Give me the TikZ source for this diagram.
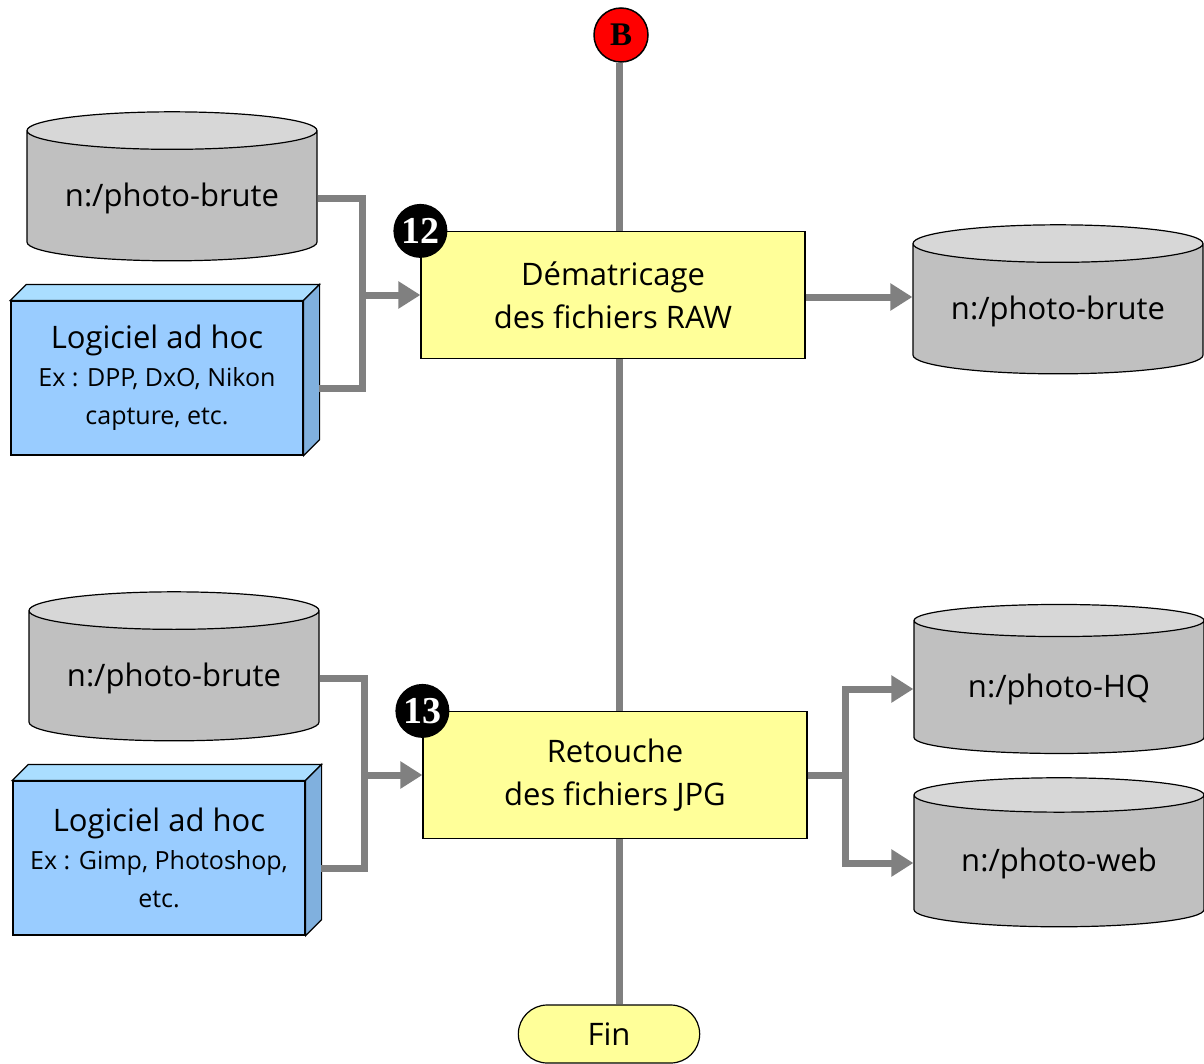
\documentclass[tikz,border=0pt]{standalone}
\usepackage{fontspec}
\setmainfont{Open Sans}
\newfontfamily\badgefont{Liberation Serif}
\usetikzlibrary{shapes,arrows.meta,positioning,calc}

\definecolor{procfill}{RGB}{255,255,153}
\definecolor{softfront}{RGB}{153,204,255}
\definecolor{softtop}{RGB}{170,222,255}
\definecolor{softside}{RGB}{128,176,222}
\definecolor{diskbody}{RGB}{192,192,192}
\definecolor{disktop}{RGB}{215,215,215}
\definecolor{wire}{RGB}{128,128,128}

\tikzset{
  process/.style={draw=black, line width=1.2pt, fill=procfill, minimum width=384pt,
    minimum height=127pt, align=center, font=\fontsize{31}{43}\selectfont},
  disk/.style={cylinder, shape border rotate=90, aspect=0.17, draw=black, line width=1.2pt,
    cylinder uses custom fill, cylinder body fill=diskbody, cylinder end fill=disktop,
    minimum width=290pt, minimum height=149pt, font=\fontsize{31}{36}\selectfont},
  soft/.style={draw=black, line width=1.2pt, fill=softfront, minimum width=292pt,
    minimum height=154pt, align=center, font=\fontsize{25}{38}\selectfont},
  badge/.style={circle, fill=black, text=white, inner sep=0pt, minimum size=54pt,
    font=\badgefont\bfseries\fontsize{38}{38}\selectfont},
  trunk/.style={draw=wire, line width=7pt},
  link/.style={draw=wire, line width=7pt},
  flow/.style={link, -{Triangle[length=22pt,width=26pt]}}
}

\begin{document}
\begin{tikzpicture}[x=1pt,y=-1pt]
  \useasboundingbox (0,0) rectangle (1204,1063);

  % start / end
  \node[circle, draw=black, line width=1.5pt, fill=red, minimum size=54pt, inner sep=0pt,
    font=\badgefont\bfseries\fontsize{33}{33}\selectfont] (B) at (621,35) {B};
  \node[rounded rectangle, draw=black, line width=1.2pt, fill=procfill, minimum width=188pt,
    minimum height=58pt, font=\fontsize{31}{36}\selectfont] (fin) at (609,1034) {Fin};

  % step 12
  \node[process] (box12) at (613,295) {Dématricage\\des fichiers RAW};
  \node[disk] (disk12in) at (172,198) {n:/photo-brute};
  \node[soft] (soft12) at (157,378)
    {{\fontsize{31}{38}\selectfont Logiciel ad hoc}\\Ex : DPP, DxO, Nikon\\capture, etc.};
  \node[disk] (disk12out) at (1058,311) {n:/photo-brute};

  % step 13
  \node[process] (box13) at (615,775) {Retouche\\des fichiers JPG};
  \node[disk] (disk13in) at (174,678) {n:/photo-brute};
  \node[soft] (soft13) at (159,858)
    {{\fontsize{31}{38}\selectfont Logiciel ad hoc}\\Ex : Gimp, Photoshop,\\etc.};
  \node[disk] (diskHQ) at (1059,689) {n:/photo-HQ};
  \node[disk] (diskweb) at (1059,863) {n:/photo-web};

  % 3d faces of the software boxes
  \foreach \s in {soft12,soft13} {
    \filldraw[fill=softtop, line width=1.2pt] (\s.north west) -- ++(16,-16)
      -- ($(\s.north east)+(16,-16)$) -- (\s.north east) -- cycle;
    \filldraw[fill=softside, line width=1.2pt] (\s.north east) -- ++(16,-16)
      -- ($(\s.south east)+(16,-16)$) -- (\s.south east) -- cycle;
  }

  % main line
  \draw[trunk] (B.south -| 619,0) -- (box12.north -| 619,0);
  \draw[trunk] (box12.south -| 619,0) -- (box13.north -| 619,0);
  \draw[trunk] (box13.south -| 619,0) -- (fin.north -| 619,0);

  \coordinate (join12) at (362,295);
  \coordinate (soft12out) at (319,388);
  \draw[link] (disk12in.east) -| (join12);
  \draw[link] (soft12out) -| (join12);
  \draw[flow] (join12) -- (box12.west);
  \draw[flow] (box12.east |- 0,297) -- (disk12out.west |- 0,297);

  \coordinate (join13) at (364,775);
  \coordinate (soft13out) at (321,868);
  \coordinate (split13) at (845,775);
  \draw[link] (disk13in.east) -| (join13);
  \draw[link] (soft13out) -| (join13);
  \draw[flow] (join13) -- (box13.west);
  \draw[link] (box13.east) -- (split13);
  \draw[flow] (split13) |- (diskHQ.west);
  \draw[flow] (split13) |- (diskweb.west);

  % step numbers
  \node[badge] (n12) at (box12.north west) {12};
  \node[badge] (n13) at (box13.north west) {13};
\end{tikzpicture}
\end{document}
